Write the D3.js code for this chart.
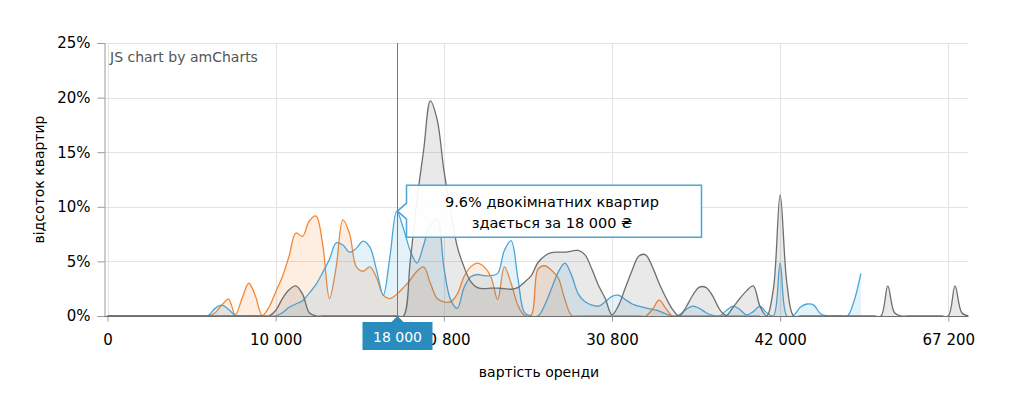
<!DOCTYPE html>
<html>
<head>
<meta charset="utf-8">
<script src="https://cdn.jsdelivr.net/npm/d3@7"></script>
<style>
  body { margin: 0; background: #fff; }
  svg { font-family: "DejaVu Sans", Verdana, sans-serif; }
</style>
</head>
<body>
<svg id="chart" width="1009" height="394"></svg>
<script>
// rent price categories (UAH)
var categories = [
  0, 400, 800, 1200, 1600, 2000, 2400, 2800, 3200, 3600, 4000, 4400, 4800, 5200, 5600, 6000, 6400, 6800, 7200, 7600, 8000, 8400, 8800, 9200, 9600,
  10000, 10400, 10800, 11200, 11600, 12000, 12400, 12800, 13200, 13600, 14000, 14400, 14800, 15200, 15600, 16000, 16800, 17200, 18000, 18400, 18800, 19200, 19600, 20000, 20400,
  20800, 21200, 21600, 22000, 22400, 22800, 23200, 23600, 24000, 24400, 24800, 25200, 25600, 26000, 26400, 26800, 27200, 27600, 28000, 28400, 28800, 29200, 29600, 30000, 30400,
  30800, 31200, 31600, 32000, 32400, 32800, 33200, 33600, 34000, 34400, 34800, 35200, 35600, 36000, 36400, 36800, 37200, 37600, 38000, 38800, 39200, 40000, 40400, 40800, 41200,
  42000, 43200, 44000, 44800, 45200, 46000, 46400, 47200, 48000, 48800, 49200, 50000, 50400, 51200, 52000, 52800, 54000, 55200, 56000, 57200, 58000, 59200, 60000, 62400, 64000,
  67200, 72000, 76000, 80000
];
var tickValues = [0, 10000, 20800, 30800, 42000, 67200];
var yTicks = [0, 5, 10, 15, 20, 25];

// % of flats per price, one value per category
var oneRoom = [
  0,0,0,0,0, 0,0,0,0,0, 0,0,0,0,0,
  0, 0.3, 1.0, 1.55, 0.1, 1.6, 3.0, 1.8, 0.05, 0.8,
  2.2, 3.6, 5.5, 7.6, 7.3, 8.7, 9.15, 6.5, 1.6, 4.5,
  8.8, 7.5, 4.5, 4.1, 4.5, 3.5, 1.9, 1.6, 2.0, 2.6,
  3.3, 4.1, 4.5, 3.0, 1.6, 1.3, 1.3, 2.0, 3.6, 4.5,
  4.85, 4.5, 3.6, 1.5, 4.5, 3.0, 1.0, 0.05, 0.1, 4.3,
  4.6, 4.2, 3.5, 1.5, 0.05, 0, 0, 0, 0, 0,
  0, 0, 0, 0, 0, 0, 0.6, 1.45, 0.7, 0,
  0, 0, 0, 0, 0, 0, 0, 0, 0, 0, 0, 0, 0
];
var twoRoom = [
  0,0,0,0,0, 0,0,0,0,0, 0,0,0,0,0,
  0.05, 0.7, 1.0, 0.6, 0.05, 0, 0, 0, 0, 0,
  0, 0.3, 0.8, 1.1, 1.4, 2.1, 2.9, 4.0, 5.2, 6.7,
  6.5, 5.85, 6.2, 6.85, 6.3, 4.2, 1.9, 5.5, 9.6, 8.0,
  6.0, 4.85, 6.5, 8.4, 8.8, 4.5, 1.5, 0.7, 2.6, 3.6,
  3.8, 3.7, 3.7, 3.9, 6.0, 6.9, 3.5, 0.3, 0, 0,
  1.0, 2.5, 4.0, 4.85, 3.7, 2.0, 1.3, 1.0, 0.9, 1.3,
  1.8, 1.9, 1.5, 1.1, 0.9, 0.75, 0.6, 0.45, 0.2, 0,
  0.1, 0.6, 0.9, 0.7, 0.3, 0.05, 0, 0.5, 0.9, 0.6,
  0.1, 0.4, 0.9, 0.3, 0, 4.85, 0, 0.05, 0.8, 1.1,
  1.0, 0.2, 0, 0, 0, 0, 1.4, 3.9
];
var threeRoom = [
  0,0,0,0,0, 0,0,0,0,0, 0,0,0,0,0, 0,0,0,0,0, 0,0,0,0,0,
  0.5, 1.6, 2.4, 2.75, 2.0, 0.3, 0, 0, 0, 0,
  0, 0, 0, 0, 0, 0, 0, 0, 0, 0,
  5.0, 10.6, 15.2, 19.7, 18.0, 13.4, 9.7, 6.35, 4.5, 3.15,
  2.6, 2.5, 2.55, 2.55, 2.5, 2.45, 2.6, 3.1, 3.7, 4.9,
  5.5, 5.8, 5.85, 5.85, 5.95, 6.0, 5.6, 4.3, 2.8, 1.6,
  0.1, 1.0, 2.6, 4.2, 5.5, 5.6, 4.5, 3.0, 1.7, 0.6,
  0, 0.8, 1.9, 2.65, 2.6, 1.8, 0.6, 0.05, 0.8, 1.6,
  2.3, 2.75, 0.9, 0, 2.5, 11.1, 3.0, 0, 0, 0,
  0, 0, 0, 0, 0, 0, 0, 0, 0, 0,
  0, 2.75, 0.3, 0, 0, 0, 0, 0, 0, 0,
  0, 2.75, 0.3, 0
];

var series = [
  {name: "однокімнатних", values: oneRoom, color: "#f58634"},
  {name: "двокімнатних", values: twoRoom, color: "#4aa6da"},
  {name: "трикімнатних", values: threeRoom, color: "#6e6e6e"}
];

var cursorPrice = 18000;
var cursorSeries = 1;

var svg = d3.select("#chart"),
    plotLeft = 107.5, plotRight = 968.5, plotTop = 43, plotBottom = 316;

var locale = d3.formatLocale({decimal: ".", thousands: " ", grouping: [3], currency: ["", " ₴"]});
var fmt = locale.format(",");

var x = d3.scalePoint().domain(categories).range([plotLeft, plotRight]);
var y = d3.scaleLinear().domain([0, 25]).range([plotBottom, plotTop]);

svg.append("clipPath").attr("id", "clip").append("rect")
    .attr("x", plotLeft - 3).attr("y", plotTop).attr("width", plotRight - plotLeft + 3).attr("height", plotBottom - plotTop + 1);

// grid
var grid = svg.append("g");
grid.selectAll(".hg").data(yTicks).enter().append("line")
    .attr("x1", plotLeft - 3).attr("x2", plotRight)
    .attr("y1", d => Math.round(y(d)) + 0.5).attr("y2", d => Math.round(y(d)) + 0.5)
    .attr("stroke", "#e3e3e3");
grid.selectAll(".vg").data(tickValues).enter().append("line")
    .attr("x1", d => Math.round(x(d)) + 0.5).attr("x2", d => Math.round(x(d)) + 0.5)
    .attr("y1", plotTop).attr("y2", plotBottom)
    .attr("stroke", "#e3e3e3");

// areas + lines
var plot = svg.append("g").attr("clip-path", "url(#clip)");
series.forEach(function(s) {
  var pts = s.values.map((v, i) => ({c: categories[i], v: v}));
  var curve = d3.curveCatmullRom.alpha(0.5);
  var area = d3.area()
      .x(d => x(d.c))
      .y0(y(0))
      .y1(d => y(d.v))
      .curve(curve);
  var line = d3.line()
      .x(d => x(d.c))
      .y(d => y(d.v))
      .curve(curve);
  plot.append("path").datum(pts)
      .attr("fill", s.color).attr("fill-opacity", 0.15)
      .attr("d", area);
  plot.append("path").datum(pts)
      .attr("fill", "none").attr("stroke", s.color).attr("stroke-width", 1.3)
      .attr("d", line);
});

// axes
var yAxis = svg.append("g")
    .attr("transform", "translate(" + (plotLeft - 3) + ",0)")
    .call(d3.axisLeft(y).tickValues(yTicks).tickSize(7).tickPadding(7).tickFormat(d => d + "%"));
yAxis.select(".domain").attr("stroke", "#9a9a9a");
yAxis.selectAll(".tick line").attr("stroke", "#9a9a9a");
yAxis.selectAll("text").attr("font-size", 15).attr("fill", "#000").attr("font-family", "DejaVu Sans");

var xAxis = svg.append("g")
    .attr("transform", "translate(0," + (plotBottom + 0.5) + ")")
    .call(d3.axisBottom(x).tickValues(tickValues).tickSize(5).tickPadding(13).tickFormat(d => fmt(d)));
xAxis.select(".domain").attr("stroke", "#6e6e6e").attr("d", "M" + (plotLeft - 3) + ",0H" + plotRight);
xAxis.selectAll(".tick line").attr("stroke", "#9a9a9a");
xAxis.selectAll("text").attr("font-size", 15).attr("fill", "#000").attr("font-family", "DejaVu Sans");

// titles
svg.append("text").attr("x", 110).attr("y", 62)
    .attr("font-size", 14).attr("fill", "#555")
    .text("JS chart by amCharts");
svg.append("text")
    .attr("transform", "translate(44," + ((plotTop + plotBottom) / 2) + ") rotate(-90)")
    .attr("text-anchor", "middle").attr("font-size", 14).attr("fill", "#000")
    .text("відсоток квартир");
svg.append("text").attr("x", 539).attr("y", 377)
    .attr("text-anchor", "middle").attr("font-size", 14).attr("fill", "#000")
    .text("вартість оренди");

// cursor
var cx = Math.round(x(cursorPrice)) + 0.5;
var cv = series[cursorSeries].values[categories.indexOf(cursorPrice)];
var cy = y(cv);
svg.append("line").attr("x1", cx).attr("x2", cx).attr("y1", plotTop).attr("y2", plotBottom)
    .attr("stroke", "#2f8fc7").attr("stroke-width", 1);

var cl = svg.append("g").attr("transform", "translate(" + cx + "," + plotBottom + ")");
cl.append("path").attr("d", "M0,0L-6,6H-35V34H35V6H6Z").attr("fill", "#2a8bbf");
cl.append("text").attr("y", 26).attr("text-anchor", "middle")
    .attr("font-size", 14).attr("fill", "#fff").text(fmt(cursorPrice));

// tooltip
var tt = svg.append("g").attr("transform", "translate(" + cx + "," + cy + ")");
var bx = 9, bw = 295, by = -26, bh = 52;
tt.append("path")
    .attr("d", "M0,0L" + bx + "," + (-8) + "V" + by + "H" + (bx + bw) + "V" + (by + bh) + "H" + bx + "V8Z")
    .attr("fill", "#fff").attr("fill-opacity", 0.92)
    .attr("stroke", "#4aa6da").attr("stroke-width", 1.5);
var tx = bx + bw / 2 - 2;
tt.append("text").attr("x", tx).attr("y", -4).attr("text-anchor", "middle")
    .attr("font-size", 14.5).attr("fill", "#000")
    .text(cv + "% " + series[cursorSeries].name + " квартир");
tt.append("text").attr("x", tx).attr("y", 17).attr("text-anchor", "middle")
    .attr("font-size", 14.5).attr("fill", "#000")
    .text("здається за " + fmt(cursorPrice) + " ₴");
</script>
</body>
</html>
